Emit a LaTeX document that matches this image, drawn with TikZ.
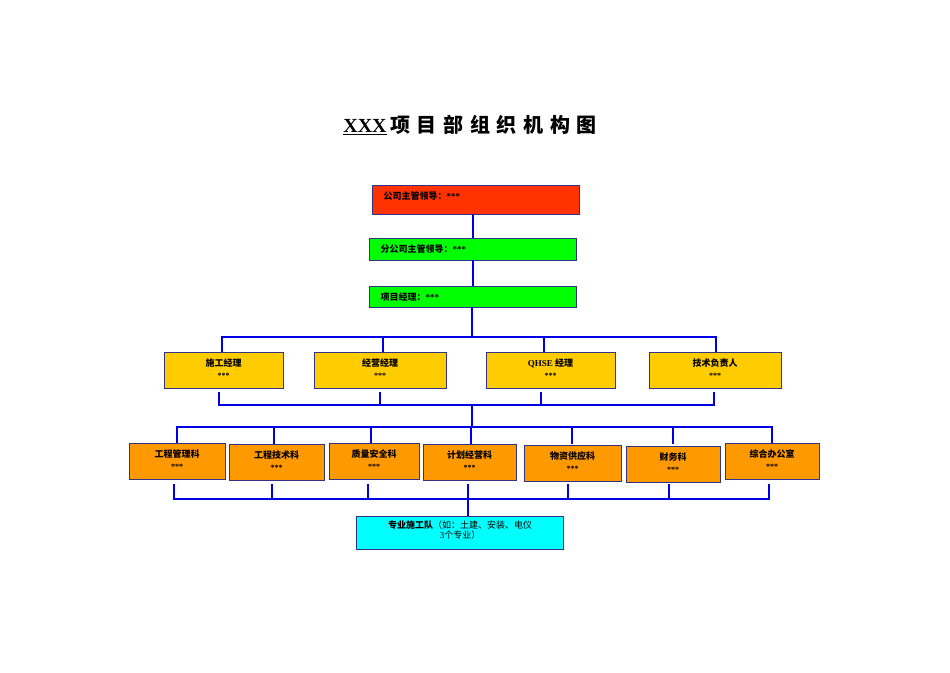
\documentclass[tikz,border=0pt]{standalone}
\usepackage{fontspec}
\setmainfont{Liberation Serif}
\newfontfamily\cjk{Noto Sans CJK SC}
\begin{document}
\begin{tikzpicture}[x=1pt,y=-1pt,
  bx/.style={draw=blue!40!black!80,line width=0.8pt,minimum height=0pt,inner sep=0pt,font=\fontsize{9}{10}\selectfont\bfseries},
  ln/.style={blue!90!black,line width=1.3pt},
  stars/.style={font=\fontsize{8}{8}\selectfont\bfseries}]
\useasboundingbox (0,0) rectangle (950,672);
\definecolor{rd}{RGB}{255,51,0}
\definecolor{gr}{RGB}{0,255,0}
\definecolor{yl}{RGB}{255,204,0}
\definecolor{og}{RGB}{255,153,0}
\definecolor{cy}{RGB}{0,255,255}
\node (title) at (470,125) {\fontsize{20}{22}\selectfont\bfseries\underline{XXX}\,{\cjk 项\,\,目\,\,部\,\,组\,\,织\,\,机\,\,构\,\,图}};
% top chain
\path[bx,fill=rd] (372,185) rectangle (579,214);
\node[anchor=west,font=\fontsize{9}{10}\selectfont\bfseries] (a) at (380,196) {\cjk 公司主管领导：\rmfamily ***};
\path[bx,fill=gr] (369,238) rectangle (576,260);
\node[anchor=west,font=\fontsize{9}{10}\selectfont\bfseries] (b) at (377,249) {\cjk 分公司主管领导：\rmfamily ***};
\path[bx,fill=gr] (369,286) rectangle (576,307);
\node[anchor=west,font=\fontsize{9}{10}\selectfont\bfseries] (c) at (377,297) {\cjk 项目经理：\rmfamily ***};
\coordinate (a1) at (473,214); \coordinate (a2) at (473,238);
\coordinate (b1) at (473,260); \coordinate (b2) at (473,286);
\draw[ln] (a1)--(a2); \draw[ln] (b1)--(b2);
\draw[ln] (472,307)--(472,337);
\draw[ln] (222,352)--(222,337)--(716,337)--(716,352);
\foreach \x in {383,544} \draw[ln] (\x,337)--(\x,352);
% managers
\foreach \l/\r/\t [count=\i] in {164/283/{\cjk 施工经理},314/446/{\cjk 经营经理},486/615/{QHSE {\cjk 经理}},649/781/{\cjk 技术负责人}}{
  \path[bx,fill=yl] (\l,352) rectangle (\r,388);
  \node[font=\fontsize{9}{10}\selectfont\bfseries] (m\i) at ({(\l+\r)/2},363) {\t};
  \node[stars] (ms\i) at ({(\l+\r)/2},376) {***};
}
\draw[ln] (219,392)--(219,405)--(714,405)--(714,392);
\foreach \x in {380,541} \draw[ln] (\x,392)--(\x,405);
\draw[ln] (472,405)--(472,427);
\draw[ln] (177,443)--(177,427)--(772,427)--(772,443);
\foreach \x in {274,371,471,572,673} \draw[ln] (\x,427)--(\x,444);
% departments
\foreach \l/\r/\tp/\t [count=\i] in {129/225/443/工程管理科,229/324/444/工程技术科,329/419/443/质量安全科,423/516/444/计划经营科,524/621/445/物资供应科,626/720/446/财务科,725/819/443/综合办公室}{
  \path[bx,fill=og] (\l,\tp) rectangle (\r,\tp+36);
  \node[font=\fontsize{9}{10}\selectfont\bfseries] (d\i) at ({(\l+\r)/2},\tp+11) {\cjk \t};
  \node[stars] (ds\i) at ({(\l+\r)/2},\tp+24) {***};
}
\draw[ln] (174,484)--(174,499)--(769,499)--(769,484);
\foreach \x in {272,368,468,568,669} \draw[ln] (\x,484)--(\x,499);
\draw[ln] (468,499)--(468,516);
\path[bx,fill=cy] (356,516) rectangle (563,549);
\node[align=center,font=\fontsize{9}{10}\selectfont] (t) at (460,530) {{\cjk\bfseries 专业施工队}{\cjk （如：土建、安装、电仪}\\3{\cjk 个专业）}};
\end{tikzpicture}
\end{document}
